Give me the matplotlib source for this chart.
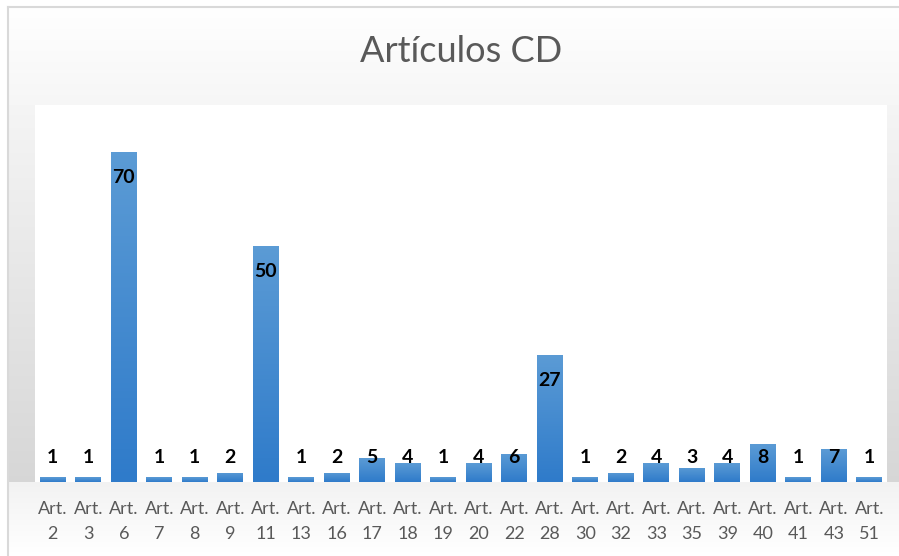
import numpy as np
import matplotlib.pyplot as plt
from matplotlib.colors import LinearSegmentedColormap

arts = ['2', '3', '6', '7', '8', '9', '11', '13', '16', '17', '18', '19',
        '20', '22', '28', '30', '32', '33', '35', '39', '40', '41', '43', '51']
counts = [1, 1, 70, 1, 1, 2, 50, 1, 2, 5, 4, 1, 4, 6, 27, 1, 2, 4, 3, 4, 8, 1, 7, 1]
tick_labels = ['Art.\n' + a for a in arts]

W, H = 899, 556
fig = plt.figure(figsize=(W / 100, H / 100), dpi=100)
fig.patch.set_facecolor('white')

# background of the chart area (soft grey towards the edges)
bg = fig.add_axes([8 / W, 0, (W - 8) / W, (H - 7) / H])
bg.set_axis_off()
yy, xx = np.mgrid[7:H, 8:W].astype(float)
shade = np.ones_like(yy)
top = yy < 105
shade[top] = 1 - 0.035 * (yy[top] - 7) / 98
side = (yy >= 105) & (yy < 482)
shade[side] = (1 - 0.04) - 0.12 * (yy[side] - 105) / 380
low = yy >= 482
t = np.clip((yy[low] - 482) / 70, 0, 1)
shade[low] = 0.95 + 0.05 * t
img = np.dstack([shade] * 3)
bg.imshow(img, extent=(0, 1, 0, 1), aspect='auto', interpolation='bilinear')
bg.set_xlim(0, 1)
bg.set_ylim(0, 1)
bg.plot([0, 1], [1, 1], color='#d9d9d9', lw=1.5, clip_on=False)
bg.plot([0, 0], [0, 1], color='#d9d9d9', lw=1.5, clip_on=False)

ax = fig.add_axes([35 / W, (H - 482) / H, 852 / W, 377 / H])
ax.set_facecolor('white')

x = np.arange(len(arts))
bars = ax.bar(x, counts, width=0.73, color='#4a8fd2', zorder=2)

cmap = LinearSegmentedColormap.from_list('bar', ['#2f7bca', '#5b9bd5'])
grad = np.linspace(0, 1, 64).reshape(-1, 1)
for b in bars:
    im = ax.imshow(grad, cmap=cmap, origin='lower', aspect='auto',
                   extent=(b.get_x(), b.get_x() + b.get_width(), 0, b.get_height()),
                   interpolation='bilinear', zorder=3)
    im.set_clip_path(b)

for xi, v in zip(x, counts):
    ax.text(xi, max(v - 5.4, 5.3), str(v), ha='center', va='center',
            fontsize=14, fontweight='bold', color='black',
            family=['Lato', 'DejaVu Sans'], zorder=4)

ax.set_xlim(-0.5, len(arts) - 0.5)
ax.set_ylim(0, 80)
ax.set_yticks([])
ax.set_xticks(x)
ax.set_xticklabels(tick_labels, fontsize=13, color='#595959',
                   family=['Lato', 'DejaVu Sans'], linespacing=1.65)
ax.tick_params(axis='x', length=0, pad=14)
for s in ax.spines.values():
    s.set_visible(False)

fig.text((35 + 852 / 2) / W, (H - 51) / H, 'Artículos CD', ha='center', va='center',
         fontsize=26, color='#595959', family=['Lato', 'DejaVu Sans'])

fig.savefig('out.png', dpi=100)
